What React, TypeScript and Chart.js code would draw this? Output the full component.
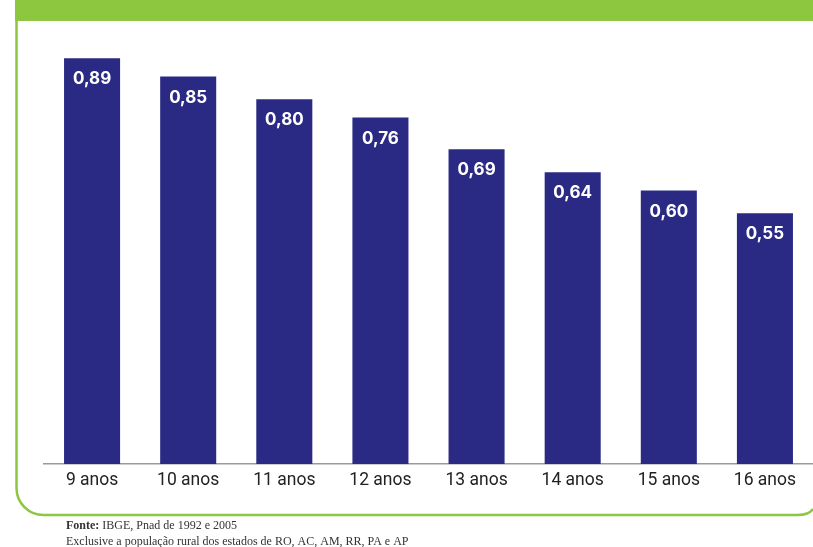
import React, { useEffect, useRef } from "react";
import { Chart, registerables } from "chart.js";

Chart.register(...registerables);

const categories = ["9 anos", "10 anos", "11 anos", "12 anos", "13 anos", "14 anos", "15 anos", "16 anos"];
const values = [0.89, 0.85, 0.8, 0.76, 0.69, 0.64, 0.6, 0.55];
const valueLabels = ["0,89", "0,85", "0,80", "0,76", "0,69", "0,64", "0,60", "0,55"];
const footerSource = "IBGE, Pnad de 1992 e 2005";
const footerNote = "Exclusive a população rural dos estados de RO, AC, AM, RR, PA e AP";

const GREEN = "#8dc63f";
const NAVY = "#2a2a85";

const framePlugin = {
  id: "frame",
  beforeDraw(chart: any) {
    const ctx = chart.ctx;
    ctx.save();
    ctx.fillStyle = "#ffffff";
    ctx.fillRect(0, 0, chart.width, chart.height);
    ctx.fillStyle = GREEN;
    ctx.fillRect(15, 0, chart.width - 15, 21);
    ctx.strokeStyle = GREEN;
    ctx.lineWidth = 2.5;
    ctx.beginPath();
    ctx.moveTo(16.5, 0);
    ctx.lineTo(16.5, 488);
    ctx.arcTo(16.5, 515, 44, 515, 27);
    ctx.lineTo(798, 515);
    ctx.quadraticCurveTo(809, 515, 813, 509);
    ctx.stroke();
    ctx.restore();
  },
  afterDraw(chart: any) {
    const ctx = chart.ctx;
    ctx.save();
    ctx.fillStyle = "#333333";
    ctx.textBaseline = "alphabetic";
    ctx.textAlign = "left";
    ctx.font = "bold 12px 'Liberation Serif'";
    ctx.fillText("Fonte:", 66, 529);
    const w = ctx.measureText("Fonte: ").width;
    ctx.font = "12px 'Liberation Serif'";
    ctx.fillText(footerSource, 66 + w, 529);
    ctx.fillText(footerNote, 66, 545);
    ctx.restore();
  },
};

const valuePlugin = {
  id: "values",
  afterDatasetsDraw(chart: any) {
    const ctx = chart.ctx;
    const meta = chart.getDatasetMeta(0);
    ctx.save();
    ctx.fillStyle = "#ffffff";
    ctx.font = "bold 17px Inter";
    ctx.textAlign = "center";
    ctx.textBaseline = "middle";
    meta.data.forEach((bar: any, i: number) => {
      ctx.fillText(valueLabels[i], bar.x, bar.y + 21);
    });
    ctx.restore();
  },
};

export default function App() {
  const ref = useRef<HTMLCanvasElement>(null);
  useEffect(() => {
    document.body.style.margin = "0";
    const chart = new Chart(ref.current!, {
      type: "bar",
      data: {
        labels: categories,
        datasets: [
          {
            data: values,
            backgroundColor: NAVY,
            borderWidth: 0,
            categoryPercentage: 1,
            barPercentage: 0.583,
          },
        ],
      },
      options: {
        responsive: false,
        animation: false,
        layout: { padding: { left: 44, right: 0, top: 8, bottom: 50 } },
        plugins: { legend: { display: false }, tooltip: { enabled: false } },
        scales: {
          x: {
            grid: { display: false, drawTicks: false },
            border: { display: true, color: "#9a9a9a", width: 1.5 },
            ticks: {
              color: "#222222",
              padding: 6,
              font: { family: "Roboto, sans-serif", size: 17.5, weight: "normal" },
            },
          },
          y: { display: false, min: 0, max: 1 },
        },
      },
      plugins: [framePlugin, valuePlugin],
    });
    return () => chart.destroy();
  }, []);
  return (
    <div style={{ position: "absolute", left: 0, top: 0, width: 813, height: 547 }}>
      <canvas ref={ref} width={813} height={547} style={{ display: "block" }} />
    </div>
  );
}
